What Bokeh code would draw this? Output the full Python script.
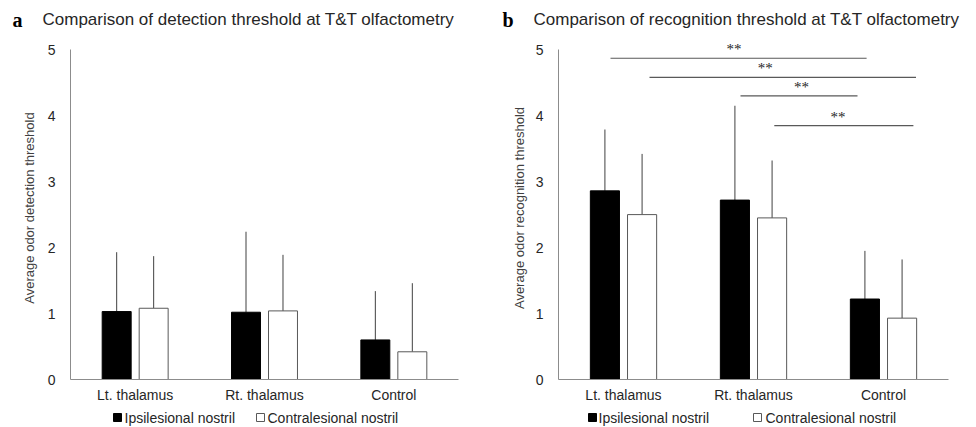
from bokeh.plotting import figure
from bokeh.models import ColumnDataSource, FixedTicker, LabelSet, Range1d
from bokeh.layouts import row, column
from bokeh.embed import file_html
from bokeh.resources import INLINE
from bokeh.core.properties import value

# ---------------- data ----------------
categories = ["Lt. thalamus", "Rt. thalamus", "Control"]
series_names = ["Ipsilesional nostril", "Contralesional nostril"]

det_ipsi = [1.03, 1.02, 0.60]
det_ipsi_sd = [0.90, 1.22, 0.74]
det_contra = [1.08, 1.04, 0.42]
det_contra_sd = [0.79, 0.85, 1.04]

rec_ipsi = [2.86, 2.72, 1.22]
rec_ipsi_sd = [0.93, 1.43, 0.73]
rec_contra = [2.50, 2.45, 0.93]
rec_contra_sd = [0.92, 0.87, 0.89]

# significance brackets (panel b), in category units (0..3)
sig_x0 = [0.40, 0.70, 1.40, 1.66]
sig_x1 = [2.37, 2.75, 2.30, 2.73]
sig_y = [4.87, 4.58, 4.30, 3.85]
sig_star_x = [1.35, 1.59, 1.87, 2.15]
sig_text = ["**", "**", "**", "**"]

panel_letters = ["a", "b"]
panel_titles = ["Comparison of detection threshold at T&T olfactometry",
                "Comparison of recognition threshold at T&T olfactometry"]
y_labels = ["Average odor detection threshold", "Average odor recognition threshold"]

y_ticks = [0, 1, 2, 3, 4, 5]

FONT = "Liberation Sans"
AXIS_COL = "#8c8c8c"
ERR_COL = "#404040"
TXT_COL = "#262626"
TOTAL_W = 976
TITLE_H = 34
LEG_H = 22
H = 427 - TITLE_H - LEG_H
FRAME_H = 343
B_TOP = 2
Y_END = 5.2


def strip_fig(height):
    f = figure(width=TOTAL_W, height=height, x_range=Range1d(0, TOTAL_W),
               y_range=Range1d(height, 0), min_border=0, x_axis_type=None,
               y_axis_type=None, output_backend="svg", toolbar_location=None)
    f.outline_line_color = None
    f.grid.visible = False
    return f


# ---- title strip ----
tfig = strip_fig(TITLE_H)
tfig.text(x=[12, 502], y=[19, 19], text=panel_letters, text_font=value("Liberation Serif"),
          text_font_style="bold", text_font_size="20px", text_baseline="middle",
          text_color="black")
tfig.text(x=[42, 533], y=[19, 19], text=panel_titles, text_font=value(FONT),
          text_font_size="17px", text_baseline="middle", text_color=TXT_COL)

# ---- legend strip ----
lfig = strip_fig(LEG_H)
lfig.scatter(x=[117, 592], y=[12, 12], marker="square", size=8, fill_color="black",
             line_color="black")
lfig.scatter(x=[260, 757], y=[12, 12], marker="square", size=8, fill_color="white",
             line_color="#595959")
lfig.text(x=[124, 598, 267, 765], y=[12, 12, 12, 12],
          text=[series_names[0], series_names[0], series_names[1], series_names[1]],
          text_font=value(FONT), text_font_size="14px", text_baseline="middle",
          text_color=TXT_COL)


def make_panel(ylabel, ipsi, ipsi_sd, contra, contra_sd,
               frame_w, b_left, b_right, label_standoff, sig=False):
    p = figure(width=b_left + frame_w + b_right, height=H,
               frame_width=frame_w, frame_height=FRAME_H,
               min_border_left=b_left, min_border_right=b_right,
               min_border_top=B_TOP, min_border_bottom=H - B_TOP - FRAME_H,
               x_range=Range1d(0, 3), y_range=Range1d(0, Y_END),
               output_backend="svg", toolbar_location=None)
    p.outline_line_color = None
    p.xgrid.visible = False
    p.ygrid.visible = False

    centers = [i + 0.5 for i in range(len(categories))]
    off = 0.143
    bw = 0.224
    xi = [c - off for c in centers]
    xc = [c + off for c in centers]
    src_i = ColumnDataSource(dict(x=xi, top=ipsi, up=[a + b for a, b in zip(ipsi, ipsi_sd)]))
    src_c = ColumnDataSource(dict(x=xc, top=contra, up=[a + b for a, b in zip(contra, contra_sd)]))

    p.segment(x0="x", y0="top", x1="x", y1="up", source=src_i, line_color=ERR_COL, line_width=1)
    p.segment(x0="x", y0="top", x1="x", y1="up", source=src_c, line_color=ERR_COL, line_width=1)
    p.vbar(x="x", top="top", width=bw, source=src_i, fill_color="black",
           line_color="black", line_width=1)
    p.vbar(x="x", top="top", width=bw, source=src_c, fill_color="white",
           line_color="#595959", line_width=1)

    if sig:
        ssrc = ColumnDataSource(dict(x0=sig_x0, x1=sig_x1, y=sig_y, sx=sig_star_x, t=sig_text))
        p.segment(x0="x0", y0="y", x1="x1", y1="y", source=ssrc, line_color="#595959",
                  line_width=1.2)
        p.add_layout(LabelSet(x="sx", y="y", text="t", source=ssrc, text_font=FONT,
                              text_font_size="15px", text_align="center",
                              text_baseline="middle", y_offset=9, text_color=TXT_COL))

    # axes
    p.xaxis.ticker = FixedTicker(ticks=centers)
    p.xaxis.major_label_overrides = {c: n for c, n in zip(centers, categories)}
    p.yaxis.ticker = FixedTicker(ticks=y_ticks)
    p.yaxis.bounds = (0, 5)
    for ax in (p.xaxis[0], p.yaxis[0]):
        ax.axis_line_color = AXIS_COL
        ax.major_tick_line_color = None
        ax.minor_tick_line_color = None
        ax.major_label_text_font = FONT
        ax.major_label_text_font_size = "14px"
        ax.major_label_text_color = TXT_COL
    p.xaxis.major_label_standoff = 1
    p.yaxis.major_label_standoff = 9
    p.yaxis.axis_label = ylabel
    p.yaxis.axis_label_text_font = FONT
    p.yaxis.axis_label_text_font_size = "13px"
    p.yaxis.axis_label_text_font_style = "normal"
    p.yaxis.axis_label_text_color = "#404040"
    p.yaxis.axis_label_standoff = label_standoff
    return p


pa = make_panel(y_labels[0], det_ipsi, det_ipsi_sd, det_contra, det_contra_sd,
                frame_w=388, b_left=70, b_right=30, label_standoff=8)
pb = make_panel(y_labels[1], rec_ipsi, rec_ipsi_sd, rec_contra, rec_contra_sd,
                frame_w=390, b_left=70, b_right=28, label_standoff=6, sig=True)

layout = column(tfig, row(pa, pb), lfig)
open("out.html", "w").write(file_html(layout, INLINE))
